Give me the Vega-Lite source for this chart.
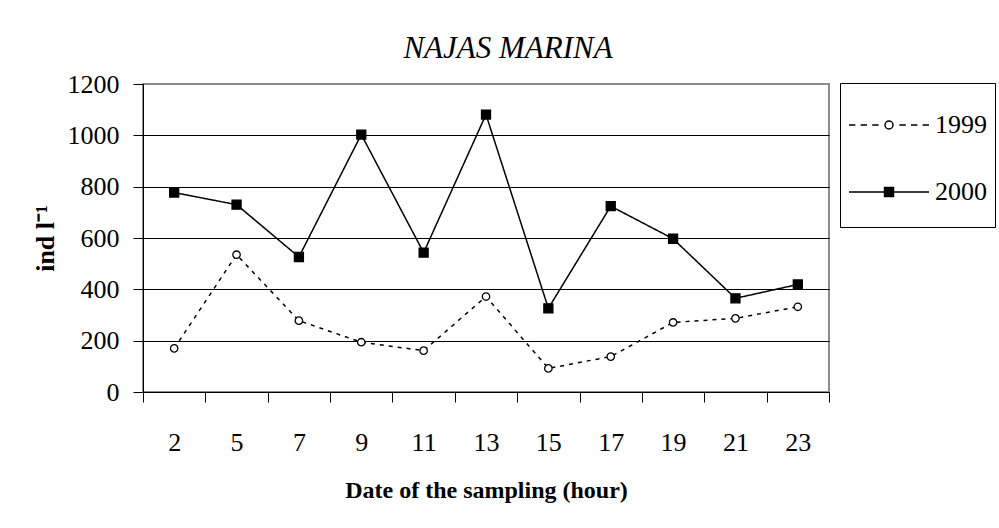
{
  "$schema": "https://vega.github.io/schema/vega-lite/v6.json",
  "autosize": "none",
  "width": 686,
  "height": 308,
  "padding": {"left": 143, "top": 84, "right": 170, "bottom": 136},
  "background": "white",
  "title": {
    "text": "NAJAS MARINA",
    "font": "Liberation Serif",
    "fontStyle": "italic",
    "fontWeight": "normal",
    "fontSize": 31,
    "color": "black",
    "anchor": "middle",
    "frame": "group",
    "baseline": "alphabetic",
    "offset": 28,
    "dx": 22,
    "dy": 46
  },
  "data": {
    "values": [
      {"hour": 2, "year": "1999", "value": 170},
      {"hour": 5, "year": "1999", "value": 535},
      {"hour": 7, "year": "1999", "value": 278},
      {"hour": 9, "year": "1999", "value": 194},
      {"hour": 11, "year": "1999", "value": 161},
      {"hour": 13, "year": "1999", "value": 372},
      {"hour": 15, "year": "1999", "value": 92},
      {"hour": 17, "year": "1999", "value": 138},
      {"hour": 19, "year": "1999", "value": 271},
      {"hour": 21, "year": "1999", "value": 287},
      {"hour": 23, "year": "1999", "value": 332},
      {"hour": 2, "year": "2000", "value": 777},
      {"hour": 5, "year": "2000", "value": 730},
      {"hour": 7, "year": "2000", "value": 526},
      {"hour": 9, "year": "2000", "value": 1003},
      {"hour": 11, "year": "2000", "value": 543},
      {"hour": 13, "year": "2000", "value": 1081},
      {"hour": 15, "year": "2000", "value": 326},
      {"hour": 17, "year": "2000", "value": 724},
      {"hour": 19, "year": "2000", "value": 597},
      {"hour": 21, "year": "2000", "value": 365},
      {"hour": 23, "year": "2000", "value": 419}
    ]
  },
  "encoding": {
    "x": {
      "field": "hour",
      "type": "ordinal",
      "sort": "ascending",
      "scale": {"type": "band", "paddingInner": 0, "paddingOuter": 0},
      "axis": {
        "title": "Date of the sampling (hour)",
        "titleFont": "Liberation Serif",
        "titleFontWeight": "bold",
        "titleFontSize": 24,
        "titleColor": "black",
        "titleBaseline": "alphabetic",
        "titleX": 343,
        "titleY": 105,
        "titleAnchor": "middle",
        "labelFont": "Liberation Serif",
        "labelFontSize": 26,
        "labelColor": "black",
        "labelAngle": 0,
        "labelBaseline": "alphabetic",
        "labelPadding": 48,
        "tickBand": "extent",
        "tickSize": 10,
        "tickColor": "black",
        "tickWidth": 1,
        "domainColor": "black",
        "domainWidth": 1,
        "grid": false
      }
    },
    "y": {
      "field": "value",
      "type": "quantitative",
      "scale": {"domain": [0, 1200], "nice": false},
      "axis": {
        "title": "ind l⁻¹",
        "titleFont": "Liberation Serif",
        "titleFontWeight": "bold",
        "titleFontSize": 26,
        "titleColor": "black",
        "titleAngle": 270,
        "titleBaseline": "alphabetic",
        "titleAlign": "center",
        "titleX": -90,
        "titleY": 154,
        "values": [0, 200, 400, 600, 800, 1000, 1200],
        "format": "d",
        "labelFont": "Liberation Serif",
        "labelFontSize": 26,
        "labelColor": "black",
        "labelPadding": 14,
        "tickSize": 10,
        "tickColor": "black",
        "domainColor": "black",
        "grid": true,
        "gridColor": {"condition": {"test": "datum.value == 1200", "value": "#8c8c8c"}, "value": "black"},
        "gridWidth": 1
      }
    }
  },
  "layer": [
    {
      "mark": {"type": "line", "strokeWidth": 1.5},
      "encoding": {
        "strokeDash": {"condition": {"test": "datum.year == '1999'", "value": [4, 5]}, "value": [1, 0]},
        "color": {
          "field": "year",
          "type": "nominal",
          "scale": {"domain": ["1999", "2000"], "range": ["black", "black"]},
          "legend": {
            "title": " ",
            "titleFontSize": 5,
            "titlePadding": 2,
            "orient": "none",
            "legendX": 697,
            "legendY": -1,
            "strokeColor": "black",
            "fillColor": "white",
            "padding": 8,
            "symbolSize": 6400,
            "symbolStrokeWidth": 1.5,
            "symbolStrokeColor": "black",
            "clipHeight": 54,
            "rowPadding": 13,
            "labelFont": "Liberation Serif",
            "labelFontSize": 26,
            "labelColor": "black",
            "labelOffset": 5,
            "encode": {
              "symbols": {
                "update": {
                  "shape": {"signal": "datum.value == '1999' ? 'M-1,0H-0.84M-0.71,0H-0.55M-0.42,0H-0.26M0.1,0A0.1,0.1 0 1,1 -0.1,0A0.1,0.1 0 1,1 0.1,0ZM0.26,0H0.42M0.55,0H0.71M0.84,0H1' : 'M-1,0H1M-0.112,-0.112H0.112V0.112H-0.112Z'"},
                  "fill": {"signal": "datum.value == '1999' ? 'white' : 'black'"},
                  "stroke": {"value": "black"},
                  "strokeWidth": {"value": 1.5},
                  "size": {"value": 6400},
                  "opacity": {"value": 1}
                }
              }
            }
          }
        }
      }
    },
    {
      "mark": {"type": "point", "filled": false, "stroke": "black", "strokeWidth": 1.3, "opacity": 1},
      "encoding": {
        "shape": {"condition": {"test": "datum.year == '1999'", "value": "circle"}, "value": "square"},
        "fill": {"condition": {"test": "datum.year == '1999'", "value": "white"}, "value": "black"},
        "size": {"condition": {"test": "datum.year == '1999'", "value": 55}, "value": 81}
      }
    }
  ],
  "config": {
    "view": {"stroke": "#8c8c8c", "strokeWidth": 2}
  }
}
